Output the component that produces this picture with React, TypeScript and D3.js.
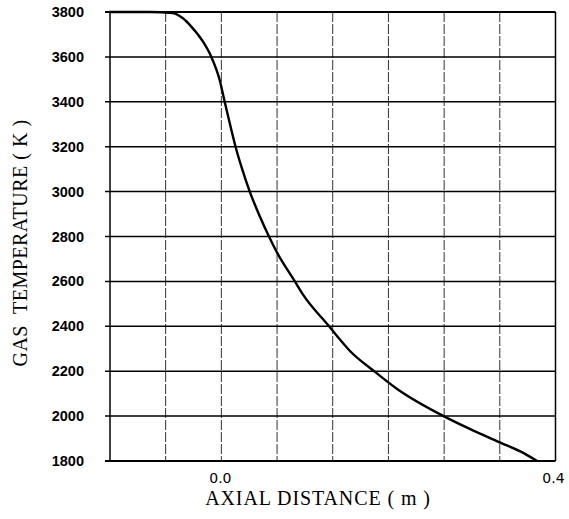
import { useEffect, useRef } from "react";
import * as d3 from "d3";

// Axial distance (m)
const distance = [
  -0.134, -0.086, -0.058, -0.046, -0.036, -0.022, -0.012, -0.002, 0.004, 0.012,
  0.017, 0.024, 0.034, 0.046, 0.057, 0.066, 0.088, 0.098, 0.129, 0.142, 0.154,
  0.183, 0.21, 0.266, 0.298, 0.334, 0.362, 0.378,
];
// Gas temperature (K)
const temperature = [
  3800, 3800, 3795, 3772, 3735, 3668, 3600, 3497, 3400, 3274, 3200, 3111, 3000,
  2890, 2800, 2733, 2600, 2540, 2400, 2341, 2290, 2200, 2122, 2000, 1942, 1882,
  1835, 1800,
];

const yTicks = [1800, 2000, 2200, 2400, 2600, 2800, 3000, 3200, 3400, 3600, 3800];
const xGrid = [-0.1333, -0.0667, 0, 0.0667, 0.1333, 0.2, 0.2667, 0.3333, 0.4];
const xLabels = [0.0, 0.4];

export default function App() {
  const svgRef = useRef<SVGSVGElement>(null);

  useEffect(() => {
    if (!svgRef.current) return;
    const svg = d3.select(svgRef.current);
    const width = 569;
    const height = 519;
    const margin = { top: 12, right: 13.5, bottom: 58, left: 110 };

    svg.selectAll("*").remove();
    svg.attr("width", width).attr("height", height);

    const x = d3
      .scaleLinear()
      .domain([-0.1333, 0.4])
      .range([margin.left, width - margin.right]);
    const y = d3
      .scaleLinear()
      .domain([1800, 3800])
      .range([height - margin.bottom, margin.top]);

    // Vertical dashed grid
    svg
      .append("g")
      .selectAll("line")
      .data(xGrid.slice(1, -1))
      .enter()
      .append("line")
      .attr("x1", (d) => x(d))
      .attr("x2", (d) => x(d))
      .attr("y1", y(3800))
      .attr("y2", y(1800))
      .attr("stroke", "#333")
      .attr("stroke-width", 1)
      .attr("stroke-dasharray", "10,2");

    // Horizontal solid grid, with short outer ticks
    svg
      .append("g")
      .selectAll("line")
      .data(yTicks)
      .enter()
      .append("line")
      .attr("x1", x.range()[0] - 5)
      .attr("x2", x.range()[1])
      .attr("y1", (d) => y(d))
      .attr("y2", (d) => y(d))
      .attr("stroke", "#000")
      .attr("stroke-width", (d) => (d === 1800 || d === 3800 ? 2.2 : 1.5));

    // Frame sides
    svg
      .append("g")
      .selectAll("line")
      .data([xGrid[0], xGrid[xGrid.length - 1]])
      .enter()
      .append("line")
      .attr("x1", (d) => x(d))
      .attr("x2", (d) => x(d))
      .attr("y1", y(3800))
      .attr("y2", y(1800))
      .attr("stroke", "#000")
      .attr("stroke-width", 1.5);

    // Y tick labels
    svg
      .append("g")
      .selectAll("text")
      .data(yTicks)
      .enter()
      .append("text")
      .attr("x", 84)
      .attr("y", (d) => y(d) + 5)
      .attr("text-anchor", "end")
      .attr("font-family", "Liberation Sans, Arial, sans-serif")
      .attr("font-weight", "bold")
      .attr("font-size", "14.5px")
      .attr("fill", "#000")
      .text((d) => d);

    // X tick labels
    svg
      .append("g")
      .selectAll("text")
      .data(xLabels)
      .enter()
      .append("text")
      .attr("x", (d) => x(d) - (d === 0.4 ? 2 : 1))
      .attr("y", 483)
      .attr("text-anchor", "middle")
      .attr("font-family", "DejaVu Sans, sans-serif")
      .attr("font-size", "14px")
      .attr("fill", "#000")
      .text((d) => d3.format(".1f")(d));

    // Curve
    const pts = distance.map((d, i) => [d, temperature[i]] as [number, number]);
    svg
      .append("path")
      .datum(pts)
      .attr("fill", "none")
      .attr("stroke", "#000")
      .attr("stroke-width", 2.4)
      .attr(
        "d",
        d3
          .line<[number, number]>()
          .x((d) => x(d[0]))
          .y((d) => y(d[1]))
          .curve(d3.curveMonotoneX)
      );

    // Axis titles
    svg
      .append("text")
      .attr("x", 318)
      .attr("y", 505)
      .attr("text-anchor", "middle")
      .attr("font-family", "Liberation Serif, Times New Roman, serif")
      .attr("font-size", "20px")
      .attr("letter-spacing", "0.9")
      .attr("fill", "#000")
      .text("AXIAL DISTANCE ( m )");

    svg
      .append("text")
      .attr("transform", "translate(27,243) rotate(-90)")
      .attr("text-anchor", "middle")
      .attr("font-family", "Liberation Serif, Times New Roman, serif")
      .attr("font-size", "20px")
      .attr("letter-spacing", "0.5")
      .attr("fill", "#000")
      .text("GAS\u00a0\u00a0TEMPERATURE ( K )");
  }, []);

  return (
    <svg
      ref={svgRef}
      style={{ position: "absolute", left: 0, top: 0, background: "#fff" }}
    ></svg>
  );
}
